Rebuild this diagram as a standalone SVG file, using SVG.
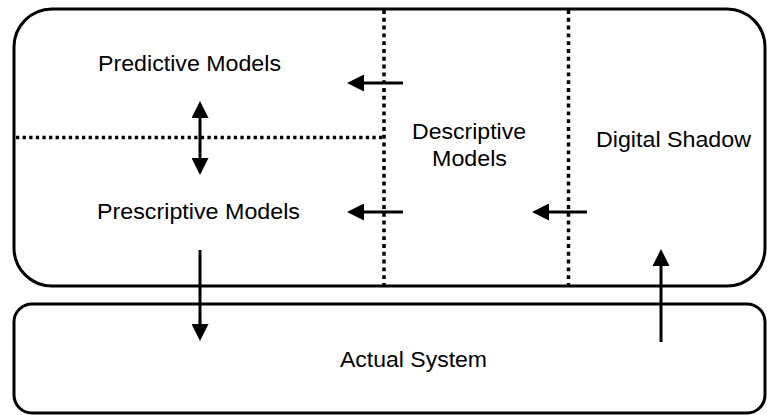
<svg xmlns="http://www.w3.org/2000/svg" width="767" height="415" viewBox="0 0 767 415">
  <style>
    .box { fill: #ffffff; stroke: #000000; stroke-width: 3; }
    .div { fill: none; stroke: #000000; stroke-width: 3.5; }
    .div-v { stroke-dasharray: 3.9 3.9; }
    .div-h { stroke-dasharray: 3.3 3.3; }
    .arrow { fill: none; stroke: #000000; stroke-width: 3; }
    .label { font-family: "Liberation Sans", Arial, sans-serif; font-size: 22px; fill: #000000; text-anchor: middle; }
  </style>
  <defs>
    <marker id="head" viewBox="0 0 17 17" refX="5" refY="8.5" markerWidth="17" markerHeight="17" markerUnits="userSpaceOnUse" orient="auto-start-reverse">
      <path d="M0,0 L17,8.5 L0,17 Z" fill="#000000"/>
    </marker>
  </defs>
  <rect width="767" height="415" fill="#ffffff"/>

  <!-- model layer container with its internal partitions -->
  <g id="digital-twin">
    <rect class="box" x="14" y="9" width="751" height="277" rx="38" ry="38"/>
    <line class="div div-v" x1="384" y1="10" x2="384" y2="285"/>
    <line class="div div-v" x1="568.5" y1="10" x2="568.5" y2="285"/>
    <line class="div div-h" x1="16" y1="137.5" x2="382" y2="137.5"/>
  </g>

  <g id="predictive-models">
    <text class="label" x="189.5" y="70.5" textLength="183" lengthAdjust="spacingAndGlyphs">Predictive Models</text>
  </g>
  <g id="prescriptive-models">
    <text class="label" x="198.5" y="219" textLength="203" lengthAdjust="spacingAndGlyphs">Prescriptive Models</text>
  </g>
  <g id="descriptive-models">
    <text class="label" x="469" y="138.5" textLength="114" lengthAdjust="spacingAndGlyphs">Descriptive</text>
    <text class="label" x="469.5" y="165.5" textLength="75" lengthAdjust="spacingAndGlyphs">Models</text>
  </g>
  <g id="digital-shadow">
    <text class="label" x="673.5" y="146.5" textLength="155" lengthAdjust="spacingAndGlyphs">Digital Shadow</text>
  </g>

  <g id="actual-system">
    <rect class="box" x="14" y="304" width="751" height="109" rx="18" ry="18"/>
    <text class="label" x="413.5" y="367" font-size="23" textLength="147" lengthAdjust="spacingAndGlyphs">Actual System</text>
  </g>

  <!-- data and control flows -->
  <g id="connectors">
    <line class="arrow" x1="200" y1="113" x2="200" y2="163" marker-start="url(#head)" marker-end="url(#head)"/>
    <line class="arrow" x1="403" y1="83" x2="359" y2="83" marker-end="url(#head)"/>
    <line class="arrow" x1="403" y1="212" x2="359" y2="212" marker-end="url(#head)"/>
    <line class="arrow" x1="587" y1="212" x2="544" y2="212" marker-end="url(#head)"/>
    <line class="arrow" x1="200" y1="250" x2="200" y2="329" marker-end="url(#head)"/>
    <line class="arrow" x1="661" y1="342" x2="661" y2="261" marker-end="url(#head)"/>
  </g>
</svg>
